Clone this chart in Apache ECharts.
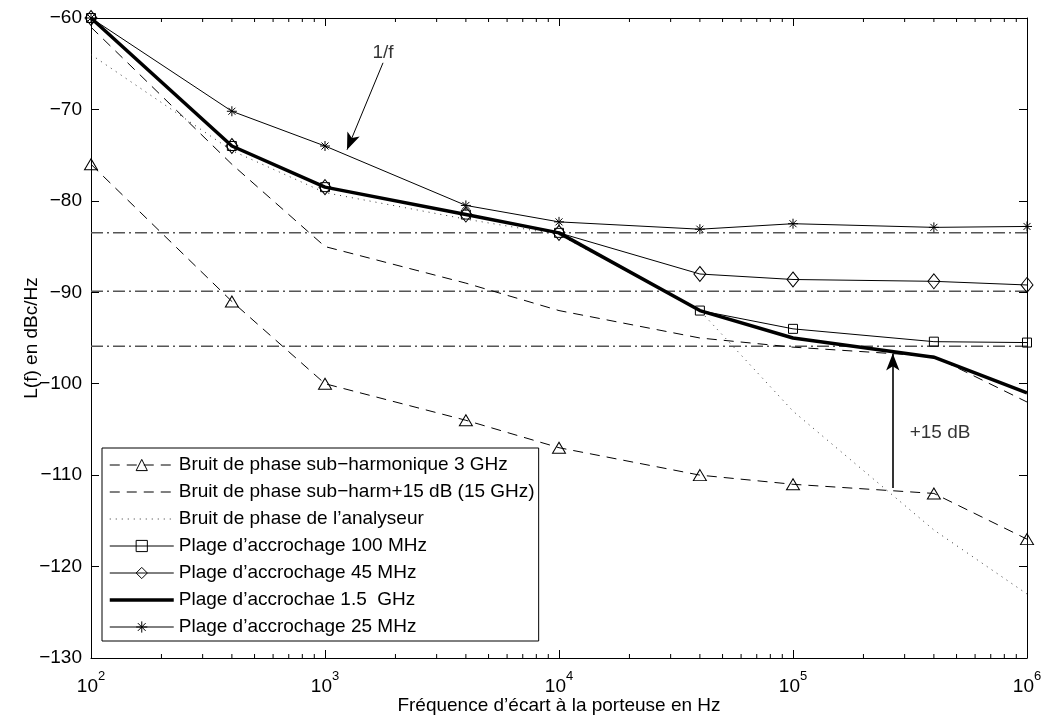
<!DOCTYPE html>
<html><head><meta charset="utf-8">
<script src="https://cdn.jsdelivr.net/npm/echarts@6/dist/echarts.min.js"></script>
<style>html,body{margin:0;padding:0;background:#fff}#c{width:1044px;height:715px}</style>
</head><body><div id="c"></div>
<script>
// ---- data ----
const freq = [100, 400, 1000, 4000, 10000, 40000, 100000, 400000, 1000000];
const subHarm3GHz = [-76, -91, -100, -104, -107, -110, -111, -112, -117];
const subHarmPlus15 = [-61, -76, -85, -89, -92, -95, -96, -97, -102];
const analyzer = [-64, -74.5, -79.1, -82, -83.7, -92, -103, -116, -123];
const lock100MHz = [-60, -74, -78.5, -81.5, -83.5, -92, -94, -95.4, -95.5];
const lock45MHz = [-60, -74, -78.5, -81.5, -83.5, -88, -88.6, -88.8, -89.2];
const lock1500MHz = [-60, -74, -78.5, -81.5, -83.5, -92, -95, -97.1, -101];
const lock25MHz = [-60, -70.2, -74, -80.5, -82.3, -83.1, -82.5, -82.9, -82.8];
const refLevels = [-83.5, -89.9, -95.9];
const seriesNames = [
  'Bruit de phase sub\u2212harmonique 3 GHz',
  'Bruit de phase sub\u2212harm+15 dB (15 GHz)',
  'Bruit de phase de l\u2019analyseur',
  'Plage d\u2019accrochage 100 MHz',
  'Plage d\u2019accrochage 45 MHz',
  'Plage d\u2019accrochae 1.5  GHz',
  'Plage d\u2019accrochage 25 MHz'
];
const hasMarker = [true, false, false, true, true, false, true];
const xMin = 100, xMax = 1000000;
const yMin = -130, yMax = -60, yStep = 10;
const minorTickVals = [200,300,400,500,600,700,800,900,
  2000,3000,4000,5000,6000,7000,8000,9000,
  20000,30000,40000,50000,60000,70000,80000,90000,
  200000,300000,400000,500000,600000,700000,800000,900000];
const annotTexts = [
  {text: '1/f', x: 1770, y: -63.8},
  {text: '+15 dB', x: 425000, y: -105.4}
];
const arrows = [
  {x1: 1770, y1: -64.9, x2: 1242, y2: -74.4, w: 1},
  {x1: 267000, y1: -111.4, x2: 267000, y2: -96.7, w: 1.6}
];
const xAxisTitle = 'Fr\u00e9quence d\u2019\u00e9cart \u00e0 la porteuse en Hz';
const yAxisTitle = 'L(f) en dBc/Hz';

// ---- chart ----
const FONT = "'Liberation Sans', Arial, Helvetica, sans-serif";
const pts = vals => freq.map((f, i) => [f, vals[i]]);
const openMarker = {color: 'rgba(0,0,0,0)', borderColor: '#000', borderWidth: 1};
const base = (name, vals, extra) => Object.assign({
  name, type: 'line', data: pts(vals), clip: false, animation: false,
  color: '#000', symbol: 'none', showSymbol: true, z: 3,
  lineStyle: {color: '#000', width: 1, type: 'solid'},
  emphasis: {disabled: true}
}, extra);

const starPath = 'path://M5,0L5,10M0,5L10,5M1.5,1.5L8.5,8.5M1.5,8.5L8.5,1.5';

const series = [
  base(seriesNames[0], subHarm3GHz, {symbol: 'triangle', symbolSize: [13, 11], itemStyle: openMarker,
    lineStyle: {color: '#000', width: 1, type: [10, 7]}}),
  base(seriesNames[1], subHarmPlus15, {lineStyle: {color: '#000', width: 1, type: [10, 7]}}),
  base(seriesNames[2], analyzer, {lineStyle: {color: '#333', width: 1, type: [1, 5]}}),
  base(seriesNames[3], lock100MHz, {symbol: 'rect', symbolSize: 9, itemStyle: openMarker}),
  base(seriesNames[4], lock45MHz, {symbol: 'diamond', symbolSize: [12, 15], itemStyle: openMarker}),
  base(seriesNames[5], lock1500MHz, {lineStyle: {color: '#000', width: 3.5, type: 'solid'}}),
  base(seriesNames[6], lock25MHz, {symbol: starPath, symbolSize: 10, symbolKeepAspect: true, itemStyle: openMarker})
];

refLevels.forEach((lv, i) => {
  series.push({
    name: 'ref' + i, type: 'line', data: [[xMin, lv], [xMax, lv]], symbol: 'none',
    animation: false, z: 2, silent: true,
    lineStyle: {color: '#555', width: 1.5, type: [12, 4, 2, 4]}
  });
});

series.push({
  name: 'minorTicks', type: 'custom', silent: true, animation: false, clip: false, z: 5,
  data: minorTickVals.map(v => [v, yMin]), encode: {x: 0, y: 1},
  renderItem: (p, api) => {
    const x = api.value(0);
    const b = api.coord([x, yMin]);
    const t = api.coord([x, yMax]);
    return {type: 'group', children: [
      {type: 'line', shape: {x1: b[0], y1: b[1], x2: b[0], y2: b[1] - 4}, style: {stroke: '#000', lineWidth: 1}},
      {type: 'line', shape: {x1: t[0], y1: t[1], x2: t[0], y2: t[1] + 4}, style: {stroke: '#000', lineWidth: 1}}
    ]};
  }
});

series.push({
  name: 'annot', type: 'scatter', silent: true, animation: false, z: 6,
  data: annotTexts.map(a => ({name: a.text, value: [a.x, a.y]})),
  symbolSize: 1, itemStyle: {color: 'rgba(0,0,0,0)'},
  label: {show: true, position: 'inside', formatter: '{b}', color: '#000', fontSize: 19, fontFamily: FONT, textBorderWidth: 0},
  markLine: {
    silent: true, animation: false, symbol: ['none', 'arrow'], symbolSize: [10, 17],
    label: {show: false}, emphasis: {disabled: true},
    lineStyle: {color: '#000', type: 'solid', width: 1},
    data: arrows.map(a => [{coord: [a.x1, a.y1], lineStyle: {width: a.w, color: '#000', type: 'solid'}}, {coord: [a.x2, a.y2]}])
  }
});

const minus = v => String(v).replace('-', '\u2212');
const xLab = v => '{b|10}{s|' + Math.round(Math.log10(v)) + '}';

const option = {
  backgroundColor: '#fff',
  animation: false,
  textStyle: {fontFamily: FONT},
  grid: {left: 91, right: 17, top: 18, bottom: 57, containLabel: false, outerBoundsMode: 'none'},
  legend: {
    data: seriesNames.map((n, i) => hasMarker[i] ? {name: n} : {name: n, itemStyle: {opacity: 0}}),
    orient: 'vertical', left: 102, top: 448,
    itemWidth: 64, itemHeight: 14, itemGap: 7,
    padding: [7, 4, 4, 6],
    backgroundColor: '#fff', borderColor: '#000', borderWidth: 1, borderRadius: 0,
    lineStyle: {width: 'inherit'},
    itemStyle: {borderWidth: 'inherit'},
    textStyle: {color: '#000', fontSize: 19, fontFamily: FONT, lineHeight: 20},
    selectedMode: false, z: 10
  },
  xAxis: [
    {type: 'log', logBase: 10, min: xMin, max: xMax, position: 'bottom',
      name: xAxisTitle, nameLocation: 'middle', nameGap: 38, nameMoveOverlap: false,
      nameTextStyle: {color: '#000', fontSize: 19, fontFamily: FONT},
      axisLine: {show: true, onZero: false, lineStyle: {color: '#000', width: 1}},
      axisTick: {show: true, inside: true, length: 8, lineStyle: {color: '#000'}},
      minorTick: {show: false}, splitLine: {show: false},
      axisLabel: {margin: 12, formatter: xLab, color: '#000',
        rich: {b: {fontSize: 19, fontFamily: FONT, color: '#000', lineHeight: 26, verticalAlign: 'bottom'},
               s: {fontSize: 13, fontFamily: FONT, color: '#000', lineHeight: 13, verticalAlign: 'top'}}}},
    {type: 'log', logBase: 10, min: xMin, max: xMax, position: 'top',
      axisLine: {show: true, onZero: false, lineStyle: {color: '#000', width: 1}},
      axisTick: {show: true, inside: true, length: 8, lineStyle: {color: '#000'}},
      axisLabel: {show: false}, splitLine: {show: false}}
  ],
  yAxis: [
    {type: 'value', min: yMin, max: yMax, interval: yStep, position: 'left',
      name: yAxisTitle, nameLocation: 'middle', nameGap: 50, nameMoveOverlap: false,
      nameTextStyle: {color: '#000', fontSize: 19, fontFamily: FONT},
      axisLine: {show: true, onZero: false, lineStyle: {color: '#000', width: 1}},
      axisTick: {show: true, inside: true, length: 8, lineStyle: {color: '#000'}},
      splitLine: {show: false},
      axisLabel: {margin: 9, formatter: minus, color: '#000', fontSize: 19, fontFamily: FONT}},
    {type: 'value', min: yMin, max: yMax, interval: yStep, position: 'right',
      axisLine: {show: true, onZero: false, lineStyle: {color: '#000', width: 1}},
      axisTick: {show: true, inside: true, length: 8, lineStyle: {color: '#000'}},
      splitLine: {show: false}, axisLabel: {show: false}}
  ],
  series
};

const chart = echarts.init(document.getElementById('c'), null, {renderer: 'canvas'});
chart.setOption(option);
</script>
</body></html>
